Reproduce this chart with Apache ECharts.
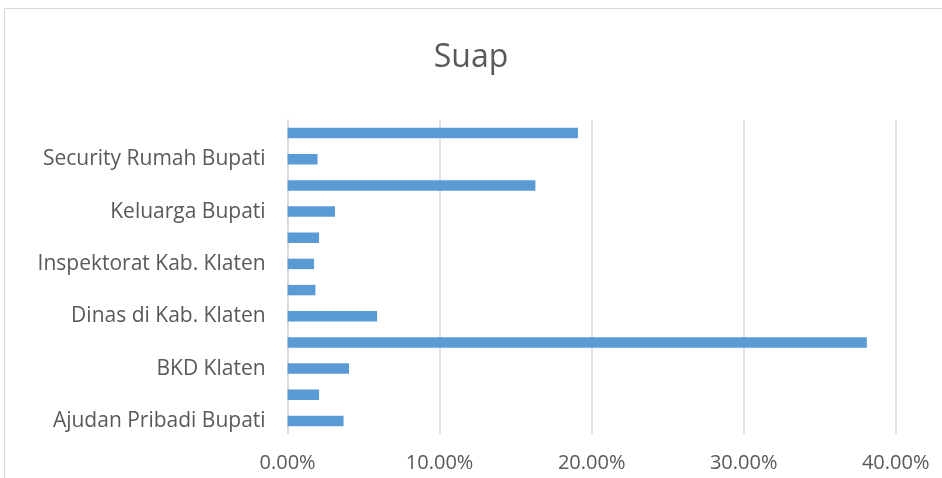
<!DOCTYPE html>
<html><head><meta charset="utf-8">
<script src="https://cdn.jsdelivr.net/npm/echarts@6/dist/echarts.min.js"></script>
<style>html,body{margin:0;padding:0;background:#fff}#c{width:942px;height:478px}</style>
</head><body><div id="c"></div>
<script>
const title = 'Suap';
const categories = ['Ajudan Pribadi Bupati','Bagian Umum Setda','BKD Klaten','Bupati Klaten','Dinas di Kab. Klaten','DPRD Kab. Klaten','Inspektorat Kab. Klaten','Kecamatan di Kab. Klaten','Keluarga Bupati','Pejabat Pemkab Klaten','Security Rumah Bupati','Sekretaris Daerah'];
const values = [3.68, 2.07, 4.04, 38.1, 5.89, 1.83, 1.74, 2.07, 3.12, 16.3, 1.97, 19.1];
const xTicks = [0, 10, 20, 30, 40];
const font = 'Open Sans';
const chart = echarts.init(document.getElementById('c'));
chart.setOption({
  animation:false,
  title:{text:title,left:'center',top:37,textStyle:{fontFamily:font,fontSize:32,fontWeight:'normal',color:'#595959'}},
  graphic:[{type:'rect',shape:{x:4.5,y:8.5,width:960,height:500},style:{fill:'none',stroke:'#D9D9D9',lineWidth:1}}],
  grid:{left:287.6,right:46.3,top:120,bottom:44},
  xAxis:{type:'value',min:xTicks[0],max:xTicks[xTicks.length-1],interval:10,
    axisLine:{show:false},axisTick:{show:false},
    splitLine:{lineStyle:{color:'#D9D9D9',width:1.5}},
    axisLabel:{formatter:v=>v.toFixed(2)+'%',fontFamily:font,fontSize:20,color:'#595959',margin:19}},
  yAxis:{type:'category',data:categories,
    axisLine:{show:true,lineStyle:{color:'#D9D9D9',width:1.5}},axisTick:{show:false},
    axisLabel:{interval:1,fontFamily:font,fontSize:21,color:'#595959',margin:22}},
  series:[{type:'bar',data:values,barWidth:'40%',itemStyle:{color:'#5B9BD5'}}]
});
</script></body></html>
